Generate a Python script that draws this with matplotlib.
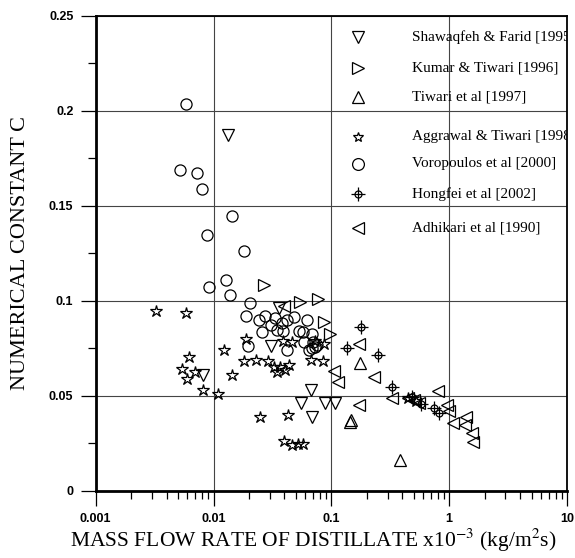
import numpy as np
import matplotlib.pyplot as plt
from matplotlib.ticker import MultipleLocator, LogLocator, NullFormatter

plt.rcParams['font.family'] = ['Liberation Serif', 'DejaVu Serif']
plt.rcParams['mathtext.fontset'] = 'stix'

# data
shaw_x = [0.0133, 0.0082, 0.031, 0.036, 0.0675, 0.0557, 0.068, 0.089, 0.107]
shaw_y = [0.187, 0.061, 0.076, 0.096, 0.053, 0.046, 0.039, 0.046, 0.046]

kumar_x = [0.0266, 0.054, 0.077, 0.086, 0.097]
kumar_y = [0.108, 0.0995, 0.101, 0.089, 0.0825]

tiwari_x = [0.145, 0.148, 0.174, 0.381]
tiwari_y = [0.036, 0.037, 0.067, 0.016]

aggr_x = [0.00325, 0.0058, 0.0062, 0.0054, 0.0070, 0.006, 0.0082, 0.011, 0.0123,
          0.0143, 0.018, 0.0189, 0.023, 0.0246, 0.0292, 0.0325, 0.0345, 0.0366,
          0.0403, 0.0435, 0.039, 0.0468, 0.0675, 0.085, 0.086, 0.072, 0.0425,
          0.0397, 0.046, 0.052, 0.058, 0.45, 0.52]
aggr_y = [0.0947, 0.0934, 0.0705, 0.064, 0.0626, 0.0586, 0.053, 0.0507, 0.074,
          0.061, 0.068, 0.080, 0.0688, 0.0386, 0.068, 0.065, 0.0626, 0.065,
          0.0635, 0.066, 0.079, 0.078, 0.069, 0.068, 0.077, 0.079, 0.040,
          0.0263, 0.024, 0.0246, 0.0246, 0.049, 0.047]

voro_x = [0.0058, 0.0052, 0.0072, 0.008, 0.0144, 0.0088, 0.018, 0.0091, 0.0127,
          0.0137, 0.0206, 0.019, 0.0195, 0.0243, 0.0273, 0.0256, 0.0305, 0.0332,
          0.0349, 0.038, 0.042, 0.048, 0.042, 0.039, 0.053, 0.057, 0.062, 0.059,
          0.064, 0.068, 0.070, 0.072, 0.069, 0.075]
voro_y = [0.2034, 0.169, 0.167, 0.159, 0.1447, 0.1344, 0.126, 0.107, 0.111,
          0.103, 0.099, 0.092, 0.076, 0.0898, 0.092, 0.0837, 0.0872, 0.0907,
          0.0846, 0.088, 0.0898, 0.0916, 0.074, 0.084, 0.084, 0.0837, 0.090, 0.078,
          0.074, 0.0825, 0.078, 0.0758, 0.075, 0.0767]

hong_x = [0.18, 0.135, 0.249, 0.324, 0.48, 0.58, 0.75, 0.82]
hong_y = [0.086, 0.0753, 0.0714, 0.0544, 0.0495, 0.0456, 0.0434, 0.0407]

adhi_x = [0.04, 0.172, 0.105, 0.115, 0.172, 0.23, 0.324, 0.45, 0.5, 0.55,
          0.81, 0.95, 1.0, 1.08, 1.38, 1.37, 1.55, 1.6]
adhi_y = [0.097, 0.0774, 0.0632, 0.0574, 0.0451, 0.0597, 0.0486, 0.049, 0.048, 0.046,
          0.0525, 0.0453, 0.042, 0.0356, 0.039, 0.0346, 0.0305, 0.0255]

labels = ['Shawaqfeh & Farid [1995]', 'Kumar & Tiwari [1996]', 'Tiwari et al [1997]',
          'Aggrawal & Tiwari [1998]', 'Voropoulos et al [2000]', 'Hongfei et al [2002]',
          'Adhikari et al [1990]']

xticks = [0.001, 0.01, 0.1, 1, 10]
xtick_labels = ['0.001', '0.01', '0.1', '1', '10']
yticks = [0, 0.05, 0.1, 0.15, 0.2, 0.25]
ytick_labels = ['0', '0.05', '0.1', '0.15', '0.2', '0.25']

fig = plt.figure(figsize=(5.75, 5.58), dpi=100)
ax = fig.add_axes([0.1664, 0.1206, 0.8197, 0.8513])

st = dict(ls='none', mfc='none', mec='black', mew=0.9)
ax.plot(shaw_x, shaw_y, marker='v', ms=8, **st)
ax.plot(kumar_x, kumar_y, marker='>', ms=8, **st)
ax.plot(tiwari_x, tiwari_y, marker='^', ms=8, **st)
ax.plot(aggr_x, aggr_y, marker='*', ms=9, **st)
ax.plot(voro_x, voro_y, marker='o', ms=8, **st)
ax.plot(hong_x, hong_y, marker='o', ms=5, **st)
ax.plot(hong_x, hong_y, marker='+', ms=10, **st)
ax.plot(adhi_x, adhi_y, marker='<', ms=8, **st)

ax.set_xscale('log')
ax.set_xlim(0.001, 10)
ax.set_ylim(0, 0.25)
ax.set_xticks(xticks)
ax.set_xticklabels(xtick_labels)
ax.set_yticks(yticks)
ax.set_yticklabels(ytick_labels)
ax.xaxis.set_minor_locator(LogLocator(base=10, subs=np.arange(2, 10)))
ax.xaxis.set_minor_formatter(NullFormatter())
ax.yaxis.set_minor_locator(MultipleLocator(0.025))
ax.tick_params(which='major', direction='out', length=11, width=0.9, pad=5)
ax.tick_params(which='minor', direction='out', length=6, width=0.9)
for lab in ax.get_xticklabels() + ax.get_yticklabels():
    lab.set_family('Liberation Sans')
    lab.set_fontweight('bold')
    lab.set_fontsize(9)

ax.grid(True, which='major', color='#444444', lw=0.8)
ax.spines['left'].set_linewidth(2)
ax.spines['bottom'].set_linewidth(2)
ax.spines['top'].set_linewidth(1.3)
ax.spines['right'].set_linewidth(1.3)

# legend drawn by hand inside the axes
leg_y = [0.955, 0.890, 0.829, 0.745, 0.688, 0.625, 0.553]
leg_m = ['v', '>', '^', '*', 'o', 'o', '<']
leg_ms = [8.5, 8.5, 8.5, 7.5, 8.5, 5, 8.5]
for yy, m, ms, lab in zip(leg_y, leg_m, leg_ms, labels):
    ax.plot([0.557], [yy], transform=ax.transAxes, marker=m, ms=ms, clip_on=False, **st)
    ax.text(0.671, yy, lab, transform=ax.transAxes, fontsize=11,
            va='center', ha='left', clip_on=True)
ax.plot([0.557], [leg_y[5]], transform=ax.transAxes, marker='+', ms=10, clip_on=False, **st)

fig.text(21 / 575, 1 - 253 / 558, 'NUMERICAL CONSTANT C', rotation=90,
         ha='center', va='center', fontsize=16)
fig.text(313 / 575, 1 - 540 / 558,
         r'MASS FLOW RATE OF DISTILLATE x10$^{-3}$ (kg/m$^{2}$s)',
         ha='center', va='center', fontsize=15.5)

fig.savefig('out.png', dpi=100)
